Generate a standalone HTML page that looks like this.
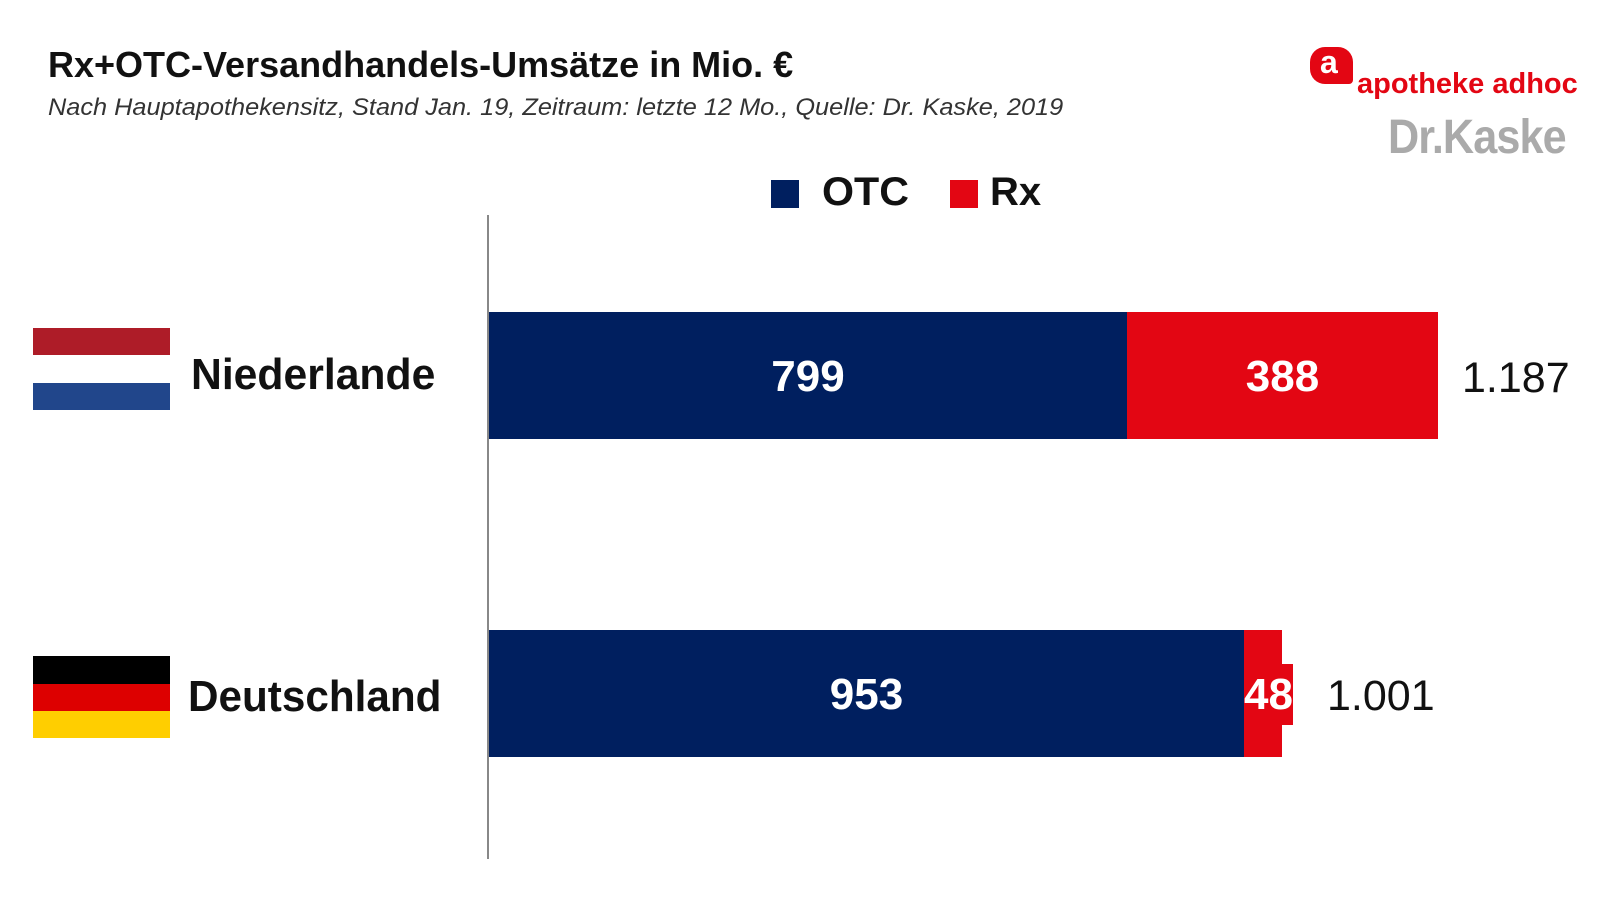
<!DOCTYPE html>
<html><head><meta charset="utf-8"><style>
body{margin:0;width:1600px;height:900px;background:#fff;position:relative;overflow:hidden;font-family:"Liberation Sans",sans-serif}
div{position:absolute}
.t{white-space:nowrap;transform-origin:left center}
.w{color:#fff;font-weight:bold;font-size:44px;text-align:center;line-height:44px}
</style></head><body>
<div class="t" style="left:48px;top:44px;font-size:36px;font-weight:bold;color:#111;transform:scaleX(1.0)">Rx+OTC-Versandhandels-Umsätze in Mio. €</div>
<div class="t" style="left:48px;top:94px;font-size:24px;font-style:italic;color:#333;transform:scaleX(1.055)">Nach Hauptapothekensitz, Stand Jan. 19, Zeitraum: letzte 12 Mo., Quelle: Dr. Kaske, 2019</div>
<div style="left:1310px;top:47px;width:43px;height:37px;background:#e30613;border-radius:15px 15px 4px 15px"></div>
<div class="t" style="left:1320px;top:44px;font-size:32px;font-weight:bold;color:#fff">a</div>
<div class="t" style="left:1357px;top:68px;font-size:29px;font-weight:bold;color:#e30613;transform:scaleX(1.0)">apotheke adhoc</div>
<div class="t" style="left:1388px;top:110px;font-size:48px;font-weight:bold;color:#aaa;transform:scaleX(0.9);letter-spacing:-1px">Dr.Kaske</div>
<div style="left:771px;top:180px;width:28px;height:28px;background:#001f5f"></div>
<div class="t" style="left:822px;top:170px;font-size:40px;font-weight:bold;color:#111;transform:scaleX(1.03)">OTC</div>
<div style="left:950px;top:180px;width:28px;height:28px;background:#e30613"></div>
<div class="t" style="left:990px;top:170px;font-size:40px;font-weight:bold;color:#111">Rx</div>
<div style="left:487px;top:215px;width:2px;height:644px;background:#888"></div>
<div style="left:33px;top:328px;width:137px;height:27px;background:#ae1c28"></div>
<div style="left:33px;top:383px;width:137px;height:27px;background:#21468b"></div>
<div class="t" style="left:191px;top:350px;font-size:44px;font-weight:bold;color:#111;transform:scaleX(0.97)">Niederlande</div>
<div style="left:33px;top:656px;width:137px;height:28px;background:#000"></div>
<div style="left:33px;top:684px;width:137px;height:27px;background:#dd0000"></div>
<div style="left:33px;top:711px;width:137px;height:27px;background:#ffce00"></div>
<div class="t" style="left:188px;top:672px;font-size:44px;font-weight:bold;color:#111;transform:scaleX(0.96)">Deutschland</div>
<div style="left:489px;top:312px;width:638px;height:127px;background:#001f5f"></div>
<div style="left:1127px;top:312px;width:311px;height:127px;background:#e30613"></div>
<div class="w" style="left:489px;top:355px;width:638px">799</div>
<div class="w" style="left:1127px;top:355px;width:311px">388</div>
<div class="t" style="left:1462px;top:354px;font-size:43px;color:#111">1.187</div>
<div style="left:489px;top:630px;width:755px;height:127px;background:#001f5f"></div>
<div style="left:1244px;top:630px;width:38px;height:127px;background:#e30613"></div>
<div style="left:1244px;top:664px;width:49px;height:61px;background:#e30613"></div>
<div class="w" style="left:489px;top:673px;width:755px">953</div>
<div class="w" style="left:1244px;top:673px;width:49px">48</div>
<div class="t" style="left:1327px;top:672px;font-size:43px;color:#111">1.001</div>
</body></html>
